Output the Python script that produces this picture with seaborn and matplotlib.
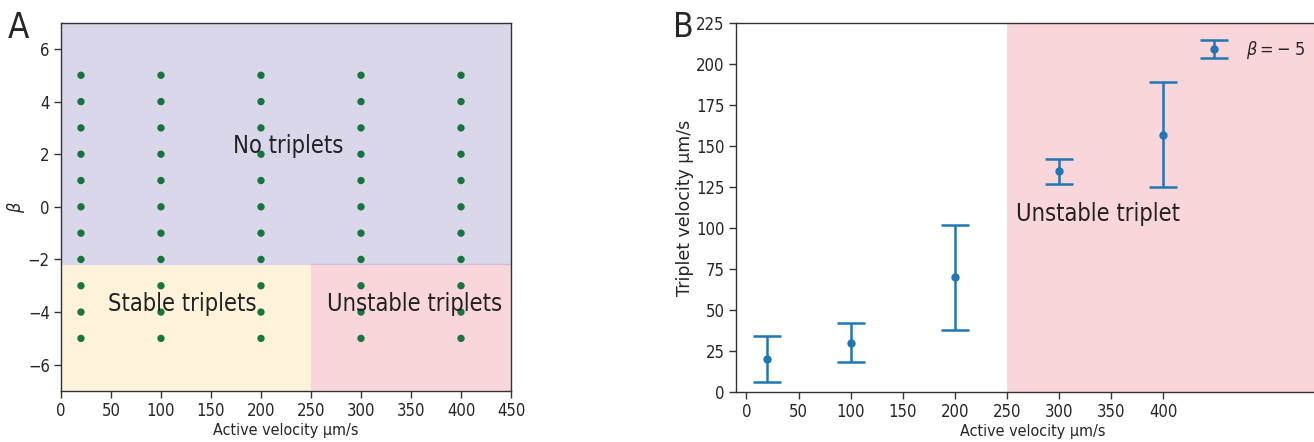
import itertools

import matplotlib
matplotlib.use("Agg")
import matplotlib.pyplot as plt
import pandas as pd
import seaborn as sns

sns.set_style("ticks")
plt.rcParams["font.family"] = ["DejaVu Sans"]
plt.rcParams["font.stretch"] = "condensed"

# panel A: simulated parameter grid
grid_velocity = [20, 100, 200, 300, 400]
grid_beta = [-5, -4, -3, -2, -1, 0, 1, 2, 3, 4, 5]
beta_boundary = -2.2
velocity_boundary = 250

# panel B: triplet velocity at beta = -5
active_velocity = [20, 100, 200, 300, 400]
triplet_velocity = [20, 30, 70, 134.5, 157]
triplet_err = [14, 12, 32, 7.7, 32]

LAVENDER = "#dbd7ea"
YELLOW = "#fef3da"
PINK = "#f9d6da"
GREEN = "#00692c"
BLUE = "#1f77b4"
TXT = "#222222"

grid = pd.DataFrame(list(itertools.product(grid_velocity, grid_beta)),
                    columns=["velocity", "beta"])

fig = plt.figure(figsize=(13.14, 4.42), dpi=100)
axA = fig.add_axes([0.0464, 0.1154, 0.3425, 0.8333])
axB = fig.add_axes([0.5601, 0.1131, 0.4523, 0.8348])

# ---- panel A ----
axA.set_xlim(0, 450)
axA.set_ylim(-7, 7)
axA.axhspan(beta_boundary, 7, color=LAVENDER, lw=0, zorder=0)
axA.fill_between([0, velocity_boundary], -7, beta_boundary, color=YELLOW, lw=0, zorder=0)
axA.fill_between([velocity_boundary, 450], -7, beta_boundary + 0.03, color=PINK, lw=0, zorder=0)
axA.plot([velocity_boundary, 450], [beta_boundary + 0.03] * 2, color="#d9b9dc", lw=1, zorder=0.5)
sns.scatterplot(data=grid, x="velocity", y="beta", ax=axA, color=GREEN, s=28,
                alpha=0.9, edgecolor="none", legend=False, zorder=2)
axA.text(227, 2.3, "No triplets", ha="center", va="center", fontsize=17, color=TXT)
axA.text(121, -3.7, "Stable triplets", ha="center", va="center", fontsize=17, color=TXT)
axA.text(354, -3.7, "Unstable triplets", ha="center", va="center", fontsize=17, color=TXT)
axA.set_xticks(range(0, 451, 50))
axA.set_yticks(range(-6, 7, 2))
axA.set_xlabel("Active velocity µm/s", fontsize=11.5, labelpad=2)
axA.set_ylabel(r"$\beta$", fontsize=13)
axA.yaxis.set_label_coords(-0.076, 0.5)
fig.text(0.006, 0.975, "A", fontsize=25, va="top", ha="left")

# ---- panel B ----
axB.set_xlim(-10, 560)
axB.set_ylim(0, 225)
axB.axvspan(velocity_boundary, 560, color=PINK, lw=0, zorder=0)
axB.errorbar(active_velocity, triplet_velocity, yerr=triplet_err, fmt="o", color=BLUE,
             ms=5, capsize=10, elinewidth=1.8, capthick=1.8, label=r"$\beta = -\;5$", zorder=3)
axB.text(337, 108.5, "Unstable triplet", ha="center", va="center", fontsize=17, color=TXT)
axB.set_xticks(range(0, 401, 50))
axB.set_yticks(range(0, 226, 25))
axB.set_xlabel("Active velocity µm/s", fontsize=11.5, labelpad=2)
axB.set_ylabel("Triplet velocity µm/s", fontsize=12.5, fontstretch="normal")
axB.yaxis.set_label_coords(-0.07, 0.5)
axB.legend(loc="upper right", frameon=False, fontsize=13, handlelength=2.3,
           handletextpad=0.6, bbox_to_anchor=(1321 / 1314, 0.948),
           bbox_transform=fig.transFigure)
fig.text(0.512, 0.975, "B", fontsize=24, va="top", ha="left")

for ax in (axA, axB):
    ax.tick_params(labelsize=12, length=5, width=1, color="#333333", pad=3)
    for sp in ax.spines.values():
        sp.set_color("#333333")
        sp.set_linewidth(1)

fig.savefig("out.png", dpi=100)
